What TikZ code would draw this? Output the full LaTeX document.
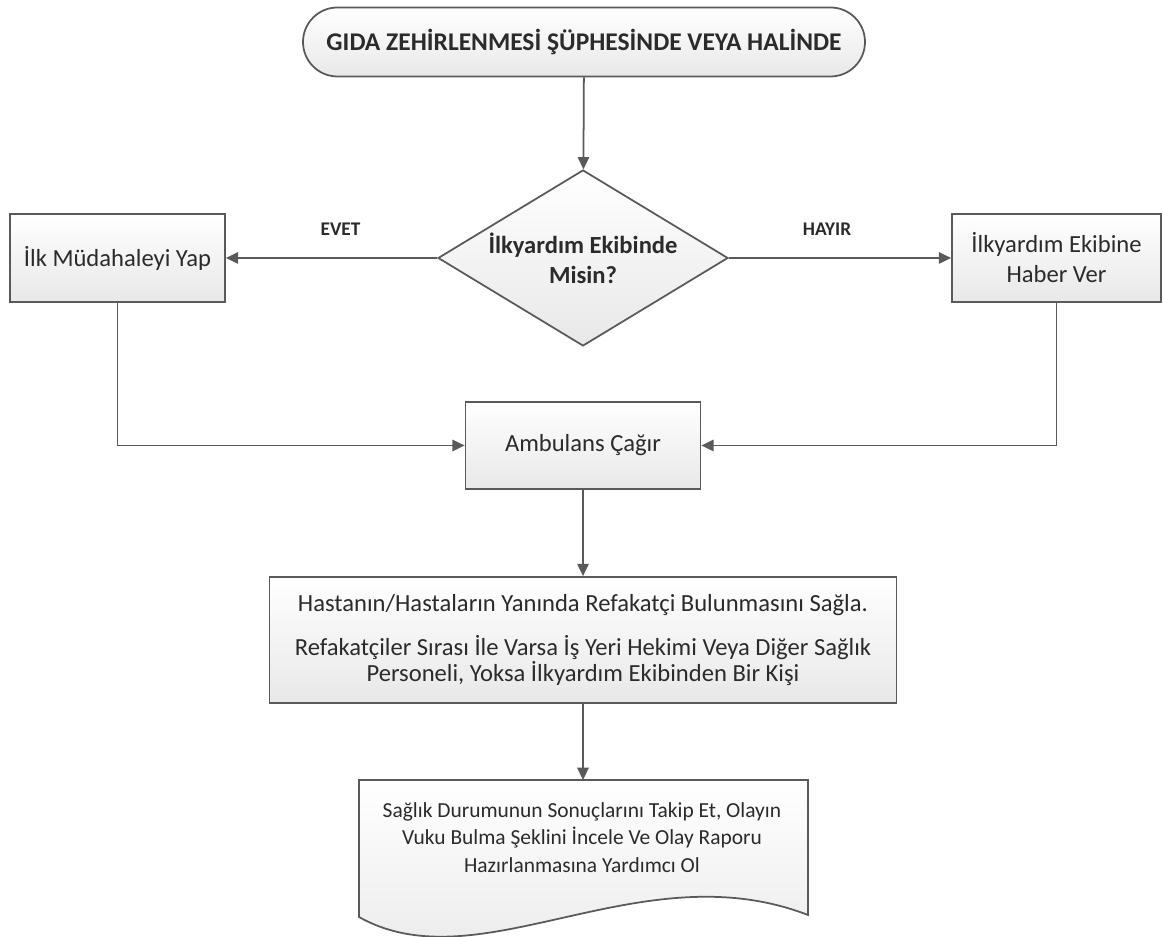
\documentclass[tikz,border=0pt]{standalone}
\usepackage{fontspec}
\setmainfont{Carlito}
\usetikzlibrary{arrows.meta,shapes.geometric,shapes.misc,positioning}
\definecolor{linegray}{HTML}{5A5A5A}
\definecolor{textgray}{HTML}{2B2B2B}

\begin{document}
\begin{tikzpicture}
[font=\fontsize{14}{16}\selectfont, line width=1pt, >={Triangle[length=7pt,width=6.5pt]},
box/.style={rectangle, draw=linegray, top color=white, bottom color=black!9, text=textgray, align=center, inner sep=0pt},
start/.style={rounded rectangle, draw=linegray, top color=white, bottom color=black!9, text=textgray, inner sep=0pt, minimum width=11.24cm, minimum height=1.38cm, font=\fontsize{14.5}{16}\selectfont\bfseries},
decision/.style={diamond, aspect=1.65, draw=linegray, top color=white, bottom color=black!9, text=textgray, align=center, inner sep=0pt, minimum width=5.8cm, minimum height=3.52cm, font=\fontsize{14}{17}\selectfont\bfseries},
conn/.style={->, draw=linegray},
lbl/.style={text=textgray, font=\fontsize{11}{13}\selectfont\bfseries}]

\useasboundingbox (0,0) rectangle (23.26,18.74);

\node[start] (poison) at (11.68,17.90) {GIDA ZEHİRLENMESİ ŞÜPHESİNDE VEYA HALİNDE};
\node[decision] (team) at (11.66,13.58) {İlkyardım Ekibinde\\Misin?};
\node[box, minimum width=4.3cm, minimum height=1.76cm, font=\fontsize{14}{17}\selectfont] (first) at (2.35,13.58) {İlk Müdahaleyi Yap};
\node[box, minimum width=4.18cm, minimum height=1.76cm, font=\fontsize{14}{17}\selectfont] (notify) at (21.13,13.58) {İlkyardım Ekibine\\Haber Ver};
\node[box, minimum width=4.7cm, minimum height=1.74cm] (call) at (11.66,9.83) {Ambulans Çağır};
\node[box, minimum width=12.54cm, minimum height=2.52cm, font=\fontsize{14}{15}\selectfont] (care) at (11.66,5.94)
  {Hastanın/Hastaların Yanında Refakatçi Bulunmasını Sağla.\\[10pt]
   Refakatçiler Sırası İle Varsa İş Yeri Hekimi Veya Diğer Sağlık\\
   Personeli, Yoksa İlkyardım Ekibinden Bir Kişi};

\coordinate (reporttop) at (11.66,3.14);
\draw[draw=linegray, top color=white, bottom color=black!9]
  (7.18,3.14) -- (16.16,3.14) -- (16.16,0.44)
  .. controls (12.8,1.74) and (9.6,-0.96) .. (7.18,0.40) -- cycle;
\node[text=textgray, align=center, font=\fontsize{12.2}{15.5}\selectfont] (report) at (11.64,1.99)
  {Sağlık Durumunun Sonuçlarını Takip Et, Olayın\\
   Vuku Bulma Şeklini İncele Ve Olay Raporu\\
   Hazırlanmasına Yardımcı Ol};

\draw[conn] (poison) -- (team);
\draw[conn] (team.west) -- node[lbl, midway, above=9pt, xshift=0.18cm] (yes) {EVET} (first.east);
\draw[conn] (team.east) -- node[lbl, midway, above=9pt, xshift=-0.26cm] (no) {HAYIR} (notify.west);
\draw[conn] (first.south) |- (call.west);
\draw[conn] (notify.south) |- (call.east);
\draw[conn] (call) -- (care);
\draw[conn] (care.south) -- (reporttop);
\end{tikzpicture}
\end{document}
